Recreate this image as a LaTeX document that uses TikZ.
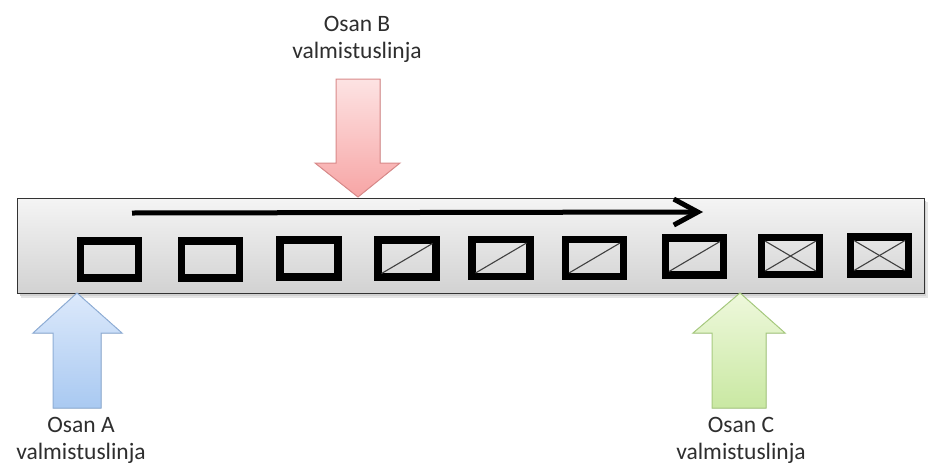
\documentclass[tikz,border=0pt]{standalone}
\usepackage{fontspec}
\setmainfont{Carlito}
\usetikzlibrary{arrows.meta}

\definecolor{barTop}{HTML}{F4F4F4}
\definecolor{barBot}{HTML}{D2D2D2}
\definecolor{redTop}{HTML}{FDE3E3}
\definecolor{redBot}{HTML}{F7A5A5}
\definecolor{redLine}{HTML}{D98A8A}
\definecolor{blueTop}{HTML}{DCE9FB}
\definecolor{blueBot}{HTML}{A9C9F1}
\definecolor{blueLine}{HTML}{8FAED6}
\definecolor{greenTop}{HTML}{EEF8DC}
\definecolor{greenBot}{HTML}{C9E8A2}
\definecolor{greenLine}{HTML}{A8CB80}
\definecolor{labelText}{HTML}{2E2E2E}

\tikzset{
  slot/.style={draw=black, line width=7.5pt, minimum width=58pt, minimum height=37pt,
    inner sep=0pt, outer sep=0pt},
  mark line/.style={draw=black!75, line width=1.1pt},
  label text/.style={font=\fontsize{23.5}{27}\selectfont, text=labelText, align=center,
    inner sep=0pt},
  block arrow/.style={line width=1pt, line join=miter},
}

\begin{document}
\begin{tikzpicture}[x=1pt, y=-1pt]
  \useasboundingbox (0,0) rectangle (928,466);
  \fill[white] (0,0) rectangle (928,466);

  % conveyor bar with soft shadow
  \fill[black!10] (21,202) rectangle (928,298);
  \fill[black!18] (20,201) rectangle (926,296);
  \node[draw=black!80, line width=1.3pt, top color=barTop, bottom color=barBot,
        minimum width=907pt, minimum height=95pt, inner sep=0pt, anchor=north west]
        (bar) at (17,198) {};

  % direction of flow
  \coordinate (flowStart) at (132,213);
  \coordinate (flowEnd) at (703,212);
  \draw[line width=5pt, -{Straight Barb[length=24pt, width=26pt, line width=5pt]}]
        (flowStart) -- (flowEnd);

  % work pieces on the line
  \node[slot] (b1) at (109.5,259.5) {};
  \node[slot] (b2) at (210.5,259.5) {};
  \node[slot] (b3) at (309,258.5) {};
  \node[slot] (b4) at (407,258.5) {};
  \node[slot] (b5) at (501,258) {};
  \node[slot] (b6) at (594.5,258) {};
  \node[slot] (b7) at (694.5,256.5) {};
  \node[slot] (b8) at (790.5,256) {};
  \node[slot] (b9) at (879.5,255.5) {};

  % one diagonal: part B added
  \foreach \b in {b4,b5,b6,b7}
    \draw[mark line] ([shift={(3.5,-3.5)}]\b.south west) -- ([shift={(-3.5,3.5)}]\b.north east);
  % crossed: part C added
  \foreach \b in {b8,b9} {
    \draw[mark line] ([shift={(3.5,-3.5)}]\b.south west) -- ([shift={(-3.5,3.5)}]\b.north east);
    \draw[mark line] ([shift={(3.5,3.5)}]\b.north west) -- ([shift={(-3.5,-3.5)}]\b.south east);
  }

  % feeding line B (from above)
  \filldraw[block arrow, draw=redLine, top color=redTop, bottom color=redBot]
    (336,79) -- (380,79) -- (380,163) -- (400,163) -- (358,197) -- (315,163) -- (336,163) -- cycle;

  % feeding line A (from below)
  \filldraw[block arrow, draw=blueLine, top color=blueTop, bottom color=blueBot]
    (53,408) -- (101,408) -- (101,333) -- (122,333) -- (77,293) -- (33,333) -- (53,333) -- cycle;

  % feeding line C (from below)
  \filldraw[block arrow, draw=greenLine, top color=greenTop, bottom color=greenBot]
    (712,408) -- (766,408) -- (766,333) -- (785,333) -- (740,293) -- (693,333) -- (712,333) -- cycle;

  % labels
  \node[label text] (lblB) at (357,39) {Osan B\\valmistuslinja};
  \node[label text] (lblA) at (81,440) {Osan A\\valmistuslinja};
  \node[label text] (lblC) at (741,440) {Osan C\\valmistuslinja};
\end{tikzpicture}
\end{document}
